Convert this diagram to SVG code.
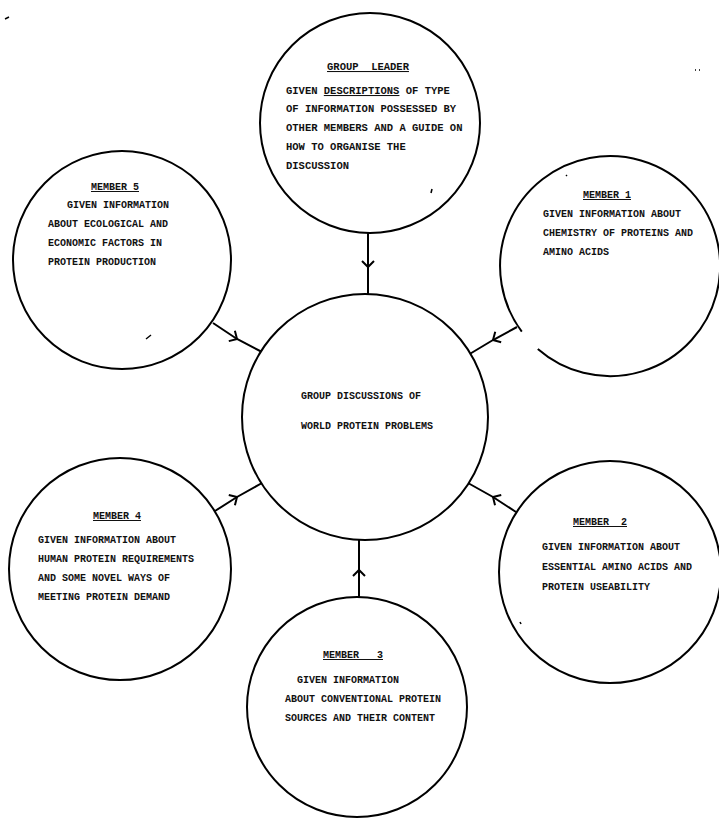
<svg xmlns="http://www.w3.org/2000/svg" width="719" height="819" viewBox="0 0 719 819">
<style>
.bg{fill:#ffffff}
.node circle,.node .ring{fill:#ffffff;stroke:#000;stroke-width:2}
text{font-family:"Liberation Mono","DejaVu Sans Mono",monospace;font-size:10px;font-weight:bold;fill:#111;white-space:pre}
.c{text-anchor:middle}
.u{text-decoration:underline}
.big{font-size:10.5px}
.conn path{fill:none;stroke:#000;stroke-width:2;marker-mid:url(#chev)}
.speck{stroke:#000;stroke-width:1.5;fill:none}
</style>
<defs>
<marker id="chev" markerUnits="userSpaceOnUse" markerWidth="16" markerHeight="16" viewBox="-8 -8 16 16" refX="0" refY="0" orient="auto">
<path d="M-6,-6 L0,0 L-6,6" fill="none" stroke="#000" stroke-width="2"/>
</marker>
</defs>
<rect class="bg" x="0" y="0" width="719" height="819"/>

<g id="connectors" class="conn">
<path d="M368,233 L368,267 L368,295"/>
<path d="M517,327 L493,340 L468,355"/>
<path d="M213,323 L237,339 L262,352"/>
<path d="M215,511 L237,497 L262,483"/>
<path d="M516,512 L493,497 L468,483"/>
<path d="M359,598 L359,570 L359,540"/>
</g>

<g id="group-leader" class="node">
<circle cx="370" cy="123" r="110"/>
<text class="c u big" x="368" y="70">GROUP  LEADER</text>
<text class="big" x="286" y="94">GIVEN <tspan class="u">DESCRIPTIONS</tspan> OF TYPE</text>
<text class="big" x="286" y="112">OF INFORMATION POSSESSED BY</text>
<text class="big" x="286" y="131">OTHER MEMBERS AND A GUIDE ON</text>
<text class="big" x="286" y="150">HOW TO ORGANISE THE</text>
<text class="big" x="286" y="169">DISCUSSION</text>
</g>

<g id="member-5" class="node">
<circle cx="122" cy="260" r="109"/>
<text class="c u" x="115" y="190">MEMBER 5</text>
<text x="67" y="208">GIVEN INFORMATION</text>
<text x="48" y="227">ABOUT ECOLOGICAL AND</text>
<text x="48" y="246">ECONOMIC FACTORS IN</text>
<text x="48" y="265">PROTEIN PRODUCTION</text>
</g>

<g id="member-1" class="node">
<path class="ring" d="M521.8,331.7 A110,110 0 1 1 537.8,349.0"/>
<text class="c u" x="607" y="198">MEMBER 1</text>
<text x="543" y="217">GIVEN INFORMATION ABOUT</text>
<text x="543" y="236">CHEMISTRY OF PROTEINS AND</text>
<text x="543" y="255">AMINO ACIDS</text>
</g>

<g id="center" class="node">
<circle cx="365" cy="417" r="123"/>
<text x="301" y="399">GROUP DISCUSSIONS OF</text>
<text x="301" y="429">WORLD PROTEIN PROBLEMS</text>
</g>

<g id="member-4" class="node">
<circle cx="120" cy="569" r="111"/>
<text class="c u" x="117" y="519">MEMBER 4</text>
<text x="38" y="543">GIVEN INFORMATION ABOUT</text>
<text x="38" y="562">HUMAN PROTEIN REQUIREMENTS</text>
<text x="38" y="581">AND SOME NOVEL WAYS OF</text>
<text x="38" y="600">MEETING PROTEIN DEMAND</text>
</g>

<g id="member-2" class="node">
<circle cx="610" cy="572" r="111"/>
<text class="c u" x="600" y="525">MEMBER  2</text>
<text x="542" y="550">GIVEN INFORMATION ABOUT</text>
<text x="542" y="570">ESSENTIAL AMINO ACIDS AND</text>
<text x="542" y="590">PROTEIN USEABILITY</text>
</g>

<g id="member-3" class="node">
<circle cx="357" cy="707" r="110"/>
<text class="c u" x="353" y="658">MEMBER   3</text>
<text x="297" y="683">GIVEN INFORMATION</text>
<text x="285" y="702">ABOUT CONVENTIONAL PROTEIN</text>
<text x="285" y="721">SOURCES AND THEIR CONTENT</text>
</g>

<g id="specks" class="speck">
<path d="M5,19 L9,17"/>
<path d="M432,189 L431,193"/>
<path d="M695,70 L696,70 M699,70 L700,70"/>
<path d="M566,175 L567,176"/>
<path d="M146,339 L151,335"/>
<path d="M520,622 L521,624"/>
</g>
</svg>
